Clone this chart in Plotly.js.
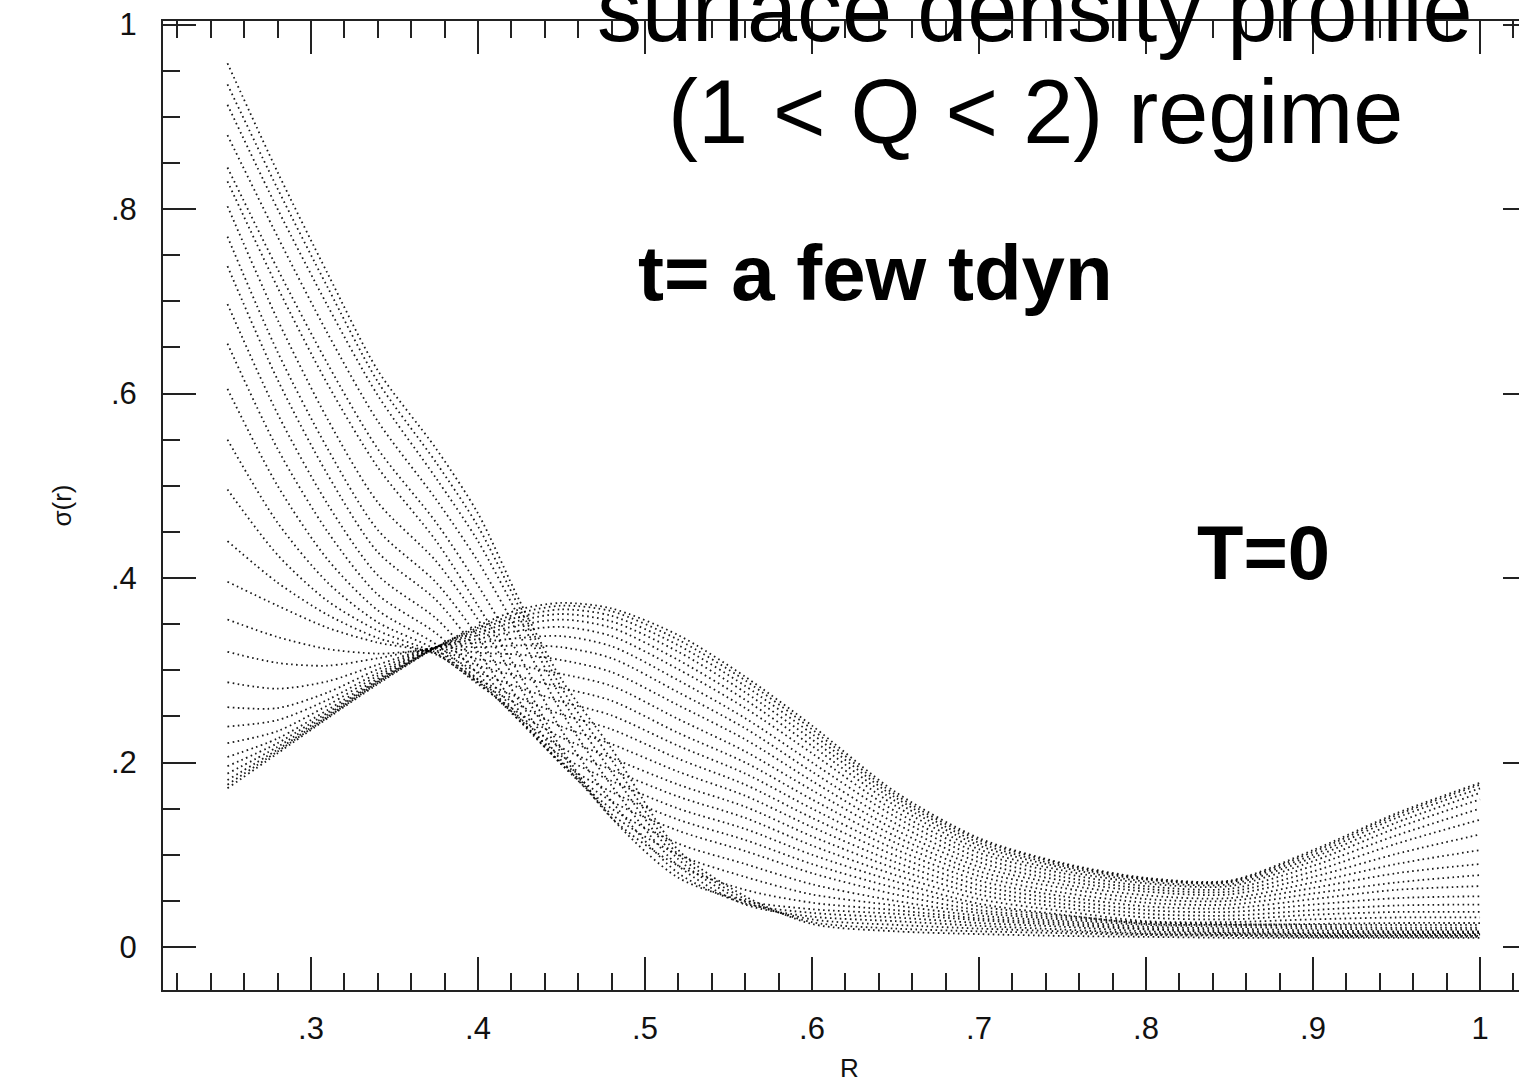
<!DOCTYPE html>
<html>
<head>
<meta charset="utf-8">
<script src="https://cdn.plot.ly/plotly-3.0.1.min.js"></script>
<style>
  html, body { margin: 0; padding: 0; background: #fff; overflow: hidden; }
  #chart { width: 1536px; height: 1085px; }
</style>
</head>
<body>
<div id="chart"></div>
<script>
// Radius sample points shared by every profile
const radius = [0.25, 0.28, 0.31, 0.34, 0.375, 0.40, 0.425, 0.45, 0.48, 0.52,
                0.56, 0.60, 0.65, 0.70, 0.75, 0.80, 0.85, 0.90, 0.95, 1.00];

// Surface density sigma(r) at successive times, from T=0 (first row)
// to t = a few tdyn (last row)
const profiles = [
  [0.172, 0.210, 0.248, 0.285, 0.325, 0.348, 0.366, 0.373, 0.367, 0.338, 0.293, 0.240, 0.168, 0.118, 0.091, 0.075, 0.072, 0.105, 0.145, 0.178],
  [0.176, 0.212, 0.249, 0.286, 0.325, 0.346, 0.362, 0.370, 0.364, 0.333, 0.289, 0.236, 0.165, 0.116, 0.090, 0.074, 0.071, 0.103, 0.143, 0.176],
  [0.181, 0.214, 0.250, 0.287, 0.325, 0.344, 0.358, 0.366, 0.359, 0.327, 0.283, 0.231, 0.162, 0.113, 0.088, 0.073, 0.070, 0.100, 0.140, 0.172],
  [0.188, 0.217, 0.252, 0.288, 0.325, 0.341, 0.354, 0.361, 0.353, 0.320, 0.276, 0.225, 0.158, 0.110, 0.086, 0.071, 0.068, 0.097, 0.135, 0.167],
  [0.196, 0.221, 0.254, 0.289, 0.325, 0.338, 0.349, 0.355, 0.346, 0.311, 0.268, 0.218, 0.153, 0.106, 0.083, 0.069, 0.066, 0.093, 0.129, 0.160],
  [0.206, 0.226, 0.257, 0.291, 0.325, 0.334, 0.343, 0.347, 0.337, 0.301, 0.259, 0.210, 0.147, 0.102, 0.080, 0.066, 0.063, 0.088, 0.121, 0.150],
  [0.221, 0.234, 0.262, 0.294, 0.325, 0.330, 0.335, 0.337, 0.326, 0.289, 0.248, 0.200, 0.141, 0.097, 0.076, 0.063, 0.060, 0.082, 0.112, 0.138],
  [0.239, 0.246, 0.268, 0.297, 0.325, 0.325, 0.327, 0.325, 0.313, 0.276, 0.237, 0.190, 0.134, 0.092, 0.072, 0.060, 0.057, 0.076, 0.101, 0.122],
  [0.260, 0.259, 0.276, 0.301, 0.325, 0.319, 0.317, 0.311, 0.298, 0.262, 0.225, 0.180, 0.127, 0.087, 0.068, 0.056, 0.053, 0.070, 0.090, 0.105],
  [0.287, 0.280, 0.288, 0.306, 0.324, 0.312, 0.305, 0.296, 0.283, 0.247, 0.212, 0.170, 0.120, 0.082, 0.064, 0.052, 0.050, 0.064, 0.080, 0.090],
  [0.320, 0.308, 0.305, 0.313, 0.323, 0.305, 0.293, 0.281, 0.267, 0.232, 0.200, 0.160, 0.113, 0.077, 0.059, 0.048, 0.046, 0.058, 0.070, 0.078],
  [0.355, 0.336, 0.323, 0.318, 0.320, 0.298, 0.281, 0.266, 0.251, 0.218, 0.188, 0.150, 0.106, 0.072, 0.055, 0.044, 0.042, 0.052, 0.062, 0.066],
  [0.396, 0.370, 0.346, 0.330, 0.318, 0.290, 0.270, 0.252, 0.236, 0.204, 0.176, 0.140, 0.099, 0.067, 0.051, 0.040, 0.038, 0.046, 0.053, 0.055],
  [0.440, 0.395, 0.360, 0.335, 0.317, 0.287, 0.262, 0.239, 0.220, 0.190, 0.164, 0.130, 0.092, 0.062, 0.047, 0.036, 0.034, 0.040, 0.045, 0.046],
  [0.496, 0.425, 0.375, 0.343, 0.318, 0.285, 0.253, 0.227, 0.205, 0.176, 0.152, 0.120, 0.085, 0.057, 0.043, 0.032, 0.030, 0.035, 0.038, 0.038],
  [0.550, 0.460, 0.395, 0.352, 0.322, 0.287, 0.248, 0.216, 0.192, 0.163, 0.140, 0.110, 0.078, 0.052, 0.039, 0.028, 0.027, 0.030, 0.032, 0.032],
  [0.605, 0.500, 0.420, 0.365, 0.328, 0.290, 0.245, 0.207, 0.180, 0.150, 0.128, 0.100, 0.071, 0.047, 0.035, 0.025, 0.024, 0.025, 0.026, 0.026],
  [0.654, 0.540, 0.450, 0.382, 0.340, 0.296, 0.245, 0.200, 0.168, 0.138, 0.116, 0.090, 0.064, 0.044, 0.034, 0.027, 0.025, 0.024, 0.024, 0.024],
  [0.697, 0.578, 0.480, 0.403, 0.356, 0.306, 0.248, 0.198, 0.158, 0.126, 0.104, 0.080, 0.057, 0.040, 0.032, 0.026, 0.024, 0.022, 0.021, 0.021],
  [0.738, 0.615, 0.512, 0.428, 0.376, 0.320, 0.255, 0.198, 0.150, 0.112, 0.090, 0.068, 0.050, 0.037, 0.030, 0.024, 0.022, 0.020, 0.019, 0.019],
  [0.770, 0.645, 0.540, 0.452, 0.395, 0.336, 0.266, 0.202, 0.144, 0.100, 0.076, 0.057, 0.045, 0.034, 0.028, 0.022, 0.020, 0.018, 0.017, 0.017],
  [0.803, 0.680, 0.572, 0.482, 0.418, 0.355, 0.282, 0.210, 0.140, 0.088, 0.062, 0.048, 0.040, 0.031, 0.026, 0.020, 0.018, 0.016, 0.016, 0.016],
  [0.830, 0.715, 0.610, 0.520, 0.440, 0.370, 0.295, 0.215, 0.140, 0.075, 0.050, 0.041, 0.036, 0.029, 0.024, 0.019, 0.016, 0.015, 0.015, 0.015],
  [0.845, 0.735, 0.632, 0.540, 0.460, 0.392, 0.315, 0.235, 0.158, 0.080, 0.047, 0.037, 0.032, 0.026, 0.022, 0.017, 0.015, 0.014, 0.014, 0.014],
  [0.880, 0.770, 0.665, 0.570, 0.485, 0.418, 0.338, 0.255, 0.175, 0.088, 0.046, 0.033, 0.028, 0.023, 0.019, 0.015, 0.014, 0.013, 0.013, 0.013],
  [0.913, 0.800, 0.695, 0.598, 0.508, 0.440, 0.356, 0.270, 0.190, 0.095, 0.049, 0.030, 0.024, 0.020, 0.017, 0.014, 0.013, 0.012, 0.012, 0.012],
  [0.935, 0.822, 0.715, 0.613, 0.525, 0.456, 0.367, 0.281, 0.203, 0.100, 0.052, 0.027, 0.020, 0.017, 0.015, 0.013, 0.012, 0.011, 0.011, 0.011],
  [0.958, 0.840, 0.730, 0.625, 0.540, 0.470, 0.375, 0.290, 0.215, 0.105, 0.055, 0.025, 0.017, 0.014, 0.012, 0.011, 0.010, 0.010, 0.010, 0.010]
];

// Axis tick positions and their printed labels
const xTickVals = [0.3, 0.4, 0.5, 0.6, 0.7, 0.8, 0.9, 1.0];
const xTickText = ['.3', '.4', '.5', '.6', '.7', '.8', '.9', '1'];
const yTickVals = [0, 0.2, 0.4, 0.6, 0.8, 1.0];
const yTickText = ['0', '.2', '.4', '.6', '.8', '1'];

const FONT = '"Liberation Sans", Arial, Helvetica, sans-serif';
const INK = '#222';

const traces = profiles.map(sigma => ({
  type: 'scatter',
  mode: 'lines',
  x: radius,
  y: sigma,
  line: { color: 'rgba(0,0,0,0.9)', width: 1.8, dash: '1.6px,3.4px', shape: 'spline', smoothing: 0.8 },
  hoverinfo: 'skip',
  showlegend: false
}));

function frameAxis(extra) {
  return Object.assign({
    showline: true,
    linecolor: INK,
    linewidth: 2,
    mirror: 'ticks',
    ticks: 'inside',
    ticklen: 33,
    tickwidth: 2,
    tickcolor: INK,
    tickmode: 'array',
    showgrid: false,
    zeroline: false,
    tickfont: { family: FONT, size: 31, color: '#111' }
  }, extra);
}

const layout = {
  width: 1536,
  height: 1085,
  margin: { l: 163, r: 0, t: 21, b: 95 },
  paper_bgcolor: '#fff',
  plot_bgcolor: '#fff',
  showlegend: false,
  xaxis: frameAxis({
    range: [0.2114, 1.0335],
    tickvals: xTickVals,
    ticktext: xTickText,
    ticklabelstandoff: 10,
    minor: { ticks: 'inside', ticklen: 17, tickwidth: 2, tickcolor: INK, dtick: 0.02, tick0: 0.2, showgrid: false },
    title: { text: 'R', font: { family: FONT, size: 26, color: '#111' }, standoff: 14 }
  }),
  yaxis: frameAxis({
    range: [-0.0466, 1.0038],
    tickvals: yTickVals,
    ticktext: yTickText,
    ticklabelstandoff: 18,
    minor: { ticks: 'inside', ticklen: 17, tickwidth: 2, tickcolor: INK, dtick: 0.05, tick0: 0, showgrid: false },
    title: { text: 'σ(r)', font: { family: FONT, size: 26, color: '#111' }, standoff: 32 }
  }),
  annotations: [
    { text: 'surface density profile', xref: 'paper', yref: 'paper', x: 0.6351, y: 1.0113,
      xanchor: 'center', yanchor: 'middle', showarrow: false,
      font: { family: FONT, size: 90, color: '#000' } },
    { text: '(1 &lt; Q &lt; 2) regime', xref: 'paper', yref: 'paper', x: 0.6358, y: 0.9061,
      xanchor: 'center', yanchor: 'middle', showarrow: false,
      font: { family: FONT, size: 90, color: '#000' } },
    { text: '<b>t= a few tdyn</b>', xref: 'paper', yref: 'paper', x: 0.5186, y: 0.7400,
      xanchor: 'center', yanchor: 'middle', showarrow: false,
      font: { family: FONT, size: 78, color: '#000' } },
    { text: '<b>T=0</b>', xref: 'paper', yref: 'paper', x: 0.8012, y: 0.4510,
      xanchor: 'center', yanchor: 'middle', showarrow: false,
      font: { family: FONT, size: 76, color: '#000' } }
  ]
};

Plotly.newPlot('chart', traces, layout, { staticPlot: true, displayModeBar: false });
</script>
</body>
</html>
